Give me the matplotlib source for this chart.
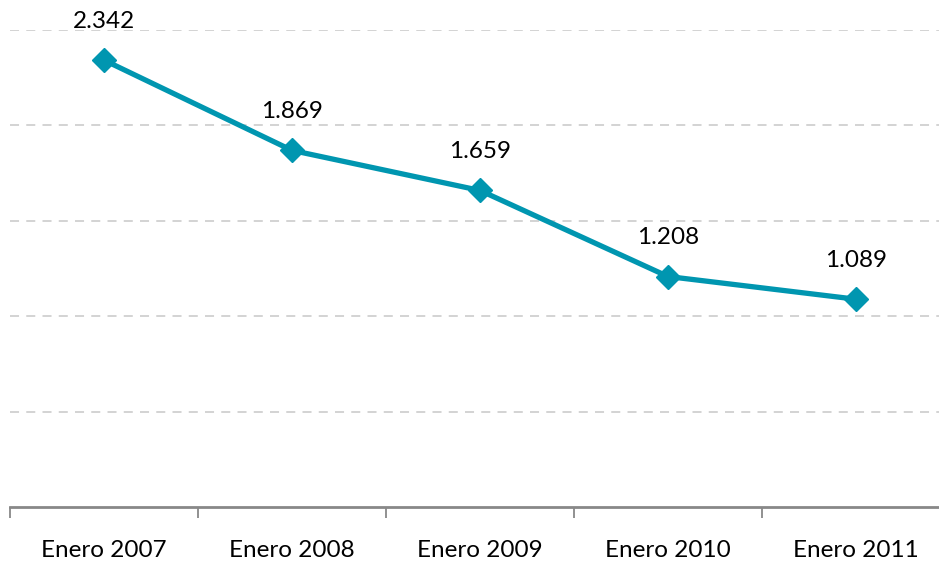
import matplotlib
matplotlib.use("Agg")
import matplotlib.pyplot as plt
import numpy as np

categories = ["Enero 2007", "Enero 2008", "Enero 2009", "Enero 2010", "Enero 2011"]
values = [2.342, 1.869, 1.659, 1.208, 1.089]
labels = ["2.342", "1.869", "1.659", "1.208", "1.089"]

plt.rcParams['font.family'] = ['Lato', 'DejaVu Sans']

W, H = 939, 567
fig = plt.figure(figsize=(W/100, H/100), dpi=100)
left = 10 / W
right = 950 / W
bottom = (H - 507) / H
top = (H - 30) / H
ax = fig.add_axes([left, bottom, right - left, top - bottom])

x = np.arange(len(categories))
color = "#0096B0"
ax.plot(x, values, color=color, lw=3.8, marker='D', ms=12, mec=color, mfc=color, zorder=3, clip_on=False)
for xi, v, lab in zip(x, values, labels):
    ax.annotate(lab, (xi, v), xytext=(0, 39), textcoords='offset pixels',
                ha='center', va='center', fontsize=17.5, color='black')

ax.set_xlim(-0.5, len(categories) - 0.5)
ax.set_ylim(0, 2.5)
ax.set_yticks([0.5, 1.0, 1.5, 2.0, 2.5])
ax.yaxis.grid(True, color='#D0D0D0', linestyle=(0, (5, 4)), lw=1.3)
ax.set_axisbelow(True)
ax.tick_params(axis='y', left=False, labelleft=False)

ax.set_xticks(x)
ax.set_xticklabels(categories, fontsize=17.5)
ax.set_xticks(np.arange(-0.5, len(categories)), minor=True)
ax.tick_params(axis='x', which='major', length=0, pad=24)
ax.tick_params(axis='x', which='minor', length=8, width=1.3, color='#888888', direction='out')

for s in ['top', 'right', 'left']:
    ax.spines[s].set_visible(False)
ax.spines['bottom'].set_color('#888888')
ax.spines['bottom'].set_linewidth(2)

fig.savefig("out.png", dpi=100)
